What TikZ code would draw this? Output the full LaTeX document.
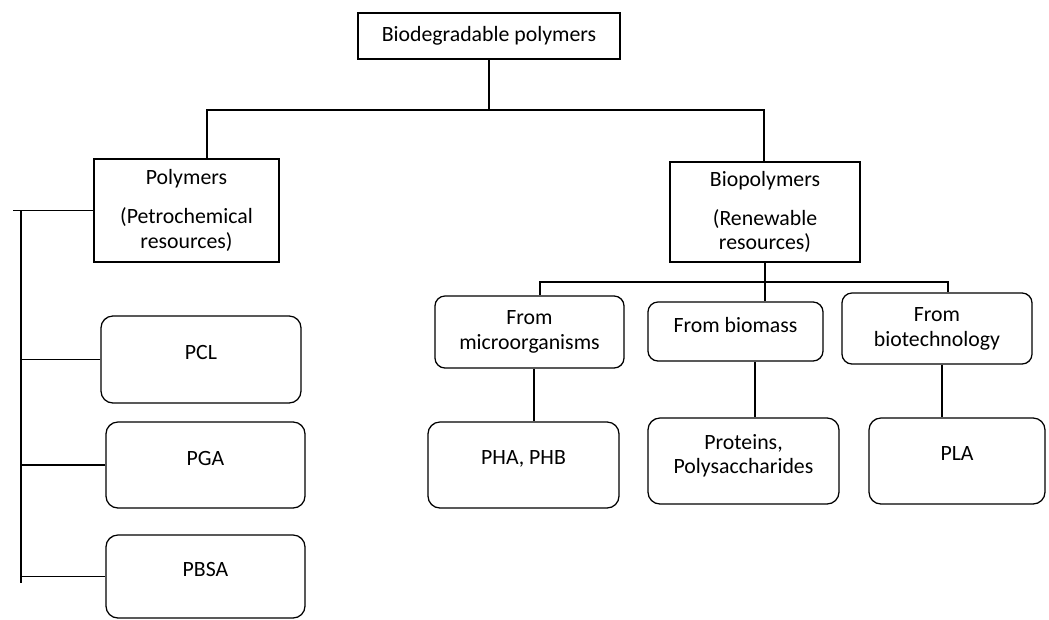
\documentclass[tikz,border=0pt]{standalone}
\usepackage{fontspec}
\setmainfont{Carlito}
\tikzset{mainbox/.style = {draw, line width=0.9pt, align=center, inner sep=2pt,
                           font=\fontsize{15.5}{17.7}\selectfont},
         subbox/.style  = {mainbox, rounded corners=0.25cm},
         leafbox/.style = {mainbox, rounded corners=0.3cm, text depth=10pt},
         link/.style    = {line width=0.9pt}}

\begin{document}
\begin{tikzpicture}[x=0.025cm, y=-0.025cm]
    \useasboundingbox (0,0) rectangle (1049,619);

    % top of the tree
    \node[mainbox, minimum width=6.55cm, minimum height=1.15cm] (bp) at (489,36) {Biodegradable polymers};
    \node[mainbox, minimum width=4.625cm, minimum height=2.575cm] (poly) at (186.5,210.5) {Polymers\\[10pt](Petrochemical\\resources)};
    \node[mainbox, minimum width=4.75cm, minimum height=2.5cm] (bio) at (765,212) {Biopolymers\\[10pt](Renewable\\resources)};

    % petrochemical side
    \node[leafbox, minimum width=5cm, minimum height=2.175cm] (pcl) at (201,359.5) {PCL};
    \node[leafbox, minimum width=4.975cm, minimum height=2.15cm] (pga) at (205.5,465) {PGA};
    \node[leafbox, minimum width=4.975cm, minimum height=2.075cm] (pbsa) at (205.5,576.5) {PBSA};

    % renewable side
    \node[subbox, minimum width=4.725cm, minimum height=1.8cm] (micro) at (529.5,332) {From\\microorganisms};
    \node[subbox, minimum width=4.375cm, minimum height=1.475cm, text depth=10pt] (mass) at (735.5,331.5) {From biomass};
    \node[subbox, minimum width=4.75cm, minimum height=1.775cm] (tech) at (937,328.5) {From\\biotechnology};
    \node[leafbox, minimum width=4.775cm, minimum height=2.15cm] (pha) at (523.5,465) {PHA, PHB};
    \node[leafbox, minimum width=4.775cm, minimum height=2.15cm] (prot) at (743.5,461) {Proteins,\\Polysaccharides};
    \node[leafbox, minimum width=4.4cm, minimum height=2.15cm] (pla) at (957,461) {PLA};

    % branch points
    \coordinate (busL) at (207,110);
    \coordinate (busR) at (764,110);
    \coordinate (lend) at (13,0);
    \coordinate (lbus) at (21,583);
    \coordinate (fa) at (540,282);
    \coordinate (fb) at (765,282);
    \coordinate (fc) at (948,282);
    \coordinate (ga) at (534,0);
    \coordinate (gb) at (755,0);
    \coordinate (gc) at (942,0);

    \draw[link] (bp.south) -- (bp.south |- busL);
    \draw[link] (busL |- poly.north) -- (busL) -- (busR) -- (busR |- bio.north);

    \draw[link] (poly.west) -- (poly.west -| lend);
    \draw[link] (lbus |- poly.west) -- (lbus);
    \foreach \leaf in {pcl,pga,pbsa}
        \draw[link] (\leaf.west) -- (\leaf.west -| lbus);

    \draw[link] (bio.south) -- (fb) -- (fb |- mass.north);
    \draw[link] (fa |- micro.north) -- (fa) -- (fc) -- (fc |- tech.north);

    \draw[link] (ga |- micro.south) -- (ga |- pha.north);
    \draw[link] (gb |- mass.south) -- (gb |- prot.north);
    \draw[link] (gc |- tech.south) -- (gc |- pla.north);
\end{tikzpicture}
\end{document}
